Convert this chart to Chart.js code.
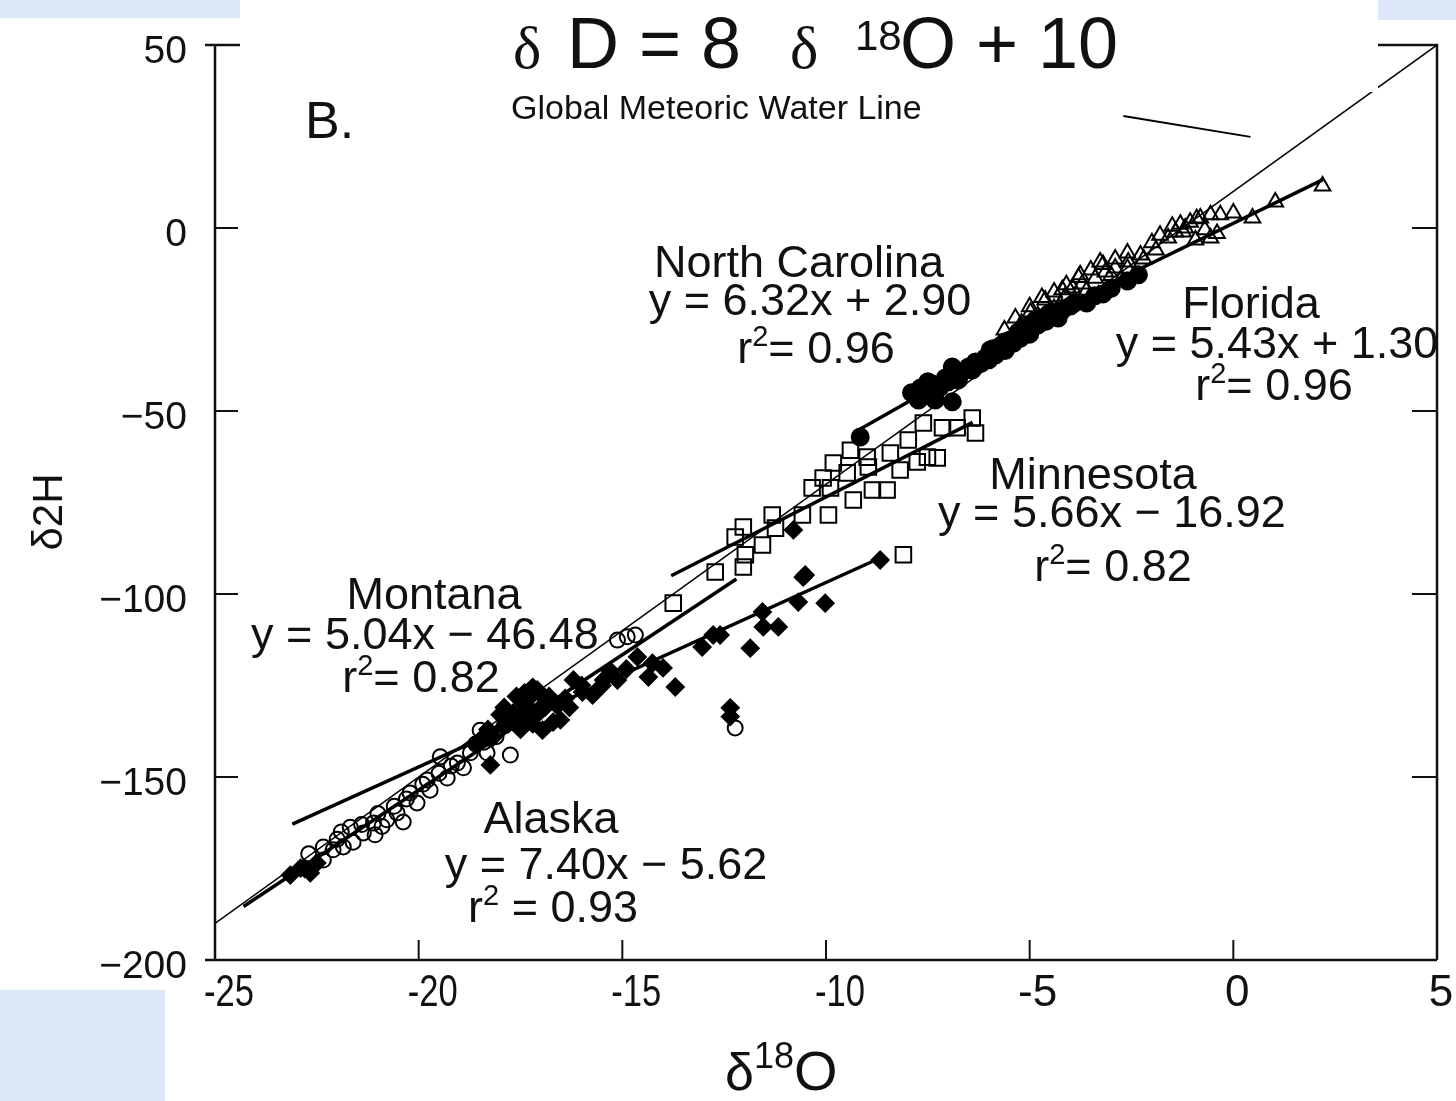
<!DOCTYPE html>
<html>
<head>
<meta charset="utf-8">
<style>
  html, body { margin: 0; padding: 0; background: #fff; }
  #wrap { width: 1456px; height: 1101px; }
</style>
<script src="https://cdn.jsdelivr.net/npm/chart.js@4.4.1/dist/chart.umd.min.js"></script>
</head>
<body>
<div id="wrap"><canvas id="c" width="1456" height="1101"></canvas></div>
<script>
// tick values
const xTicks = [-25, -20, -15, -10, -5, 0, 5];
const yTicks = [50, 0, -50, -100, -150, -200];

// Florida, open triangles
const floridaX = [2.19, 1.03, 0.47, 0.0, -0.32, -0.56, -0.81, -1.06, -1.23, -1.42, -1.6, -0.93, -0.56, -1.18,
  -2.28, -2.58, -2.9, -3.14, -3.39, -3.71, -4.12, -3.27, -3.76, -4.2, -4.62, -4.98, -5.35, -5.62, -4.49,
  -2.77, -3.31, -4.25, -3.95,
  -5.0, -4.7, -4.4, -4.1, -3.8, -3.5, -3.2, -2.9, -2.6, -2.0, -1.8, -1.5, -1.3, -0.9, -0.7, -0.4, -2.2, -1.9,
  -5.2, -4.8, -4.4, -3.9, -3.6, -3.0, -2.6];
const floridaY = [11.5, 7.1, 2.7, 4.1, 3.6, 3.6, 2.7, 1.6, -1.1, -1.1, -2.7, -3.3, -2.7, 0,
  -7.4, -9.3, -10.9, -12.0, -13.7, -15.3, -18.6, -9.3, -12.8, -16.9, -19.7, -23.0, -24.6, -27.9, -22.4,
  -14.2, -18.3, -21.0, -16.4,
  -21.5, -19.0, -17.5, -15.5, -13.5, -11.5, -10.0, -8.5, -6.8, -4.0, -2.0, 0.5, 1.0, 2.5, -0.5, -1.5, -8.5, -6.0,
  -26.0, -24.0, -22.0, -19.5, -17.0, -13.0, -11.0];

// North Carolina, filled circles
const ncX = [-9.16, -7.73, -7.32, -6.9, -7.68, -7.39, -7.07, -6.65, -6.33, -6.09, -5.97, -5.72, -5.48, -5.28,
  -5.08, -4.86, -4.69, -4.54, -5.84, -5.6, -5.23, -4.98, -6.41, -6.75, -7.49, -4.3, -4.0, -2.33, -3.6, -3.2,
  -7.9, -7.6, -7.5, -7.2, -7.0, -6.8, -6.5, -6.2, -6.0, -5.9, -5.6, -5.4, -5.2, -5.0, -4.8, -4.6, -4.4, -4.2,
  -3.9, -3.4, -3.0, -2.6, -6.9, -7.7];
const ncY = [-57.1, -47.0, -47.0, -47.5, -43.7, -42.6, -41.0, -39.3, -36.6, -35.5, -33.3, -32.2, -30.6, -28.4,
  -26.5, -25.1, -24.6, -23.5, -34.7, -31.1, -30.1, -27.9, -38.8, -41.5, -45.6, -24.6, -21.3, -12.8, -20.5, -18.0,
  -45.0, -44.5, -42.0, -43.5, -42.0, -40.0, -38.0, -37.0, -36.0, -33.0, -33.5, -31.5, -29.5, -29.0, -26.5, -25.5,
  -23.0, -22.5, -20.5, -18.5, -16.5, -14.5, -38.0, -46.5];

// Minnesota, open squares
const mnX = [-6.41, -6.33, -6.78, -7.14, -7.61, -7.51, -7.98, -8.42, -8.99, -8.96, -8.18, -8.5, -8.86, -9.33,
  -9.82, -9.48, -10.07, -10.34, -9.89, -9.94, -10.58, -11.32, -11.24, -11.56, -12.03, -12.23, -11.98, -12.03,
  -12.72, -8.1, -9.4, -7.27, -7.76, -13.75];
const mnY = [-51.9, -56.0, -54.6, -54.6, -53.3, -62.6, -57.9, -61.5, -62.6, -65.3, -66.1, -71.6, -71.6, -74.3,
  -64.2, -66.9, -68.3, -71.0, -71.0, -78.4, -78.4, -78.4, -82.0, -86.6, -81.7, -84.4, -89.3, -92.6,
  -94.0, -89.3, -60.7, -62.8, -63.9, -102.5];

// Montana, filled diamonds
const mtX = [-8.67, -10.51, -10.02, -10.68, -11.56, -11.54, -11.17, -11.86, -12.6, -12.77, -13.04, -13.7, -14.0,
  -14.26, -14.36, -14.63, -15.12, -15.46, -15.73, -15.98, -16.2, -16.52, -16.96, -17.26, -17.09, -17.43, -17.68,
  -17.92, -18.17, -12.35, -12.35, -18.24, -23.15, -22.66, -22.9, -10.8, -10.56, -16.8, -17.0, -17.2, -16.6,
  -17.5, -17.8, -16.4, -15.3,
  -17.6, -17.4, -17.3, -17.1, -16.9, -17.7, -17.9, -18.0, -17.5, -16.7, -17.2, -18.3, -18.5, -17.0, -16.3,
  -16.0, -15.5, -14.9, -18.6, -22.8, -22.5];
const mtY = [-90.7, -94.8, -102.5, -102.2, -104.9, -109.0, -109.0, -114.8, -111.2, -111.2, -114.5, -125.4, -120.2,
  -118.9, -122.7, -117.2, -123.5, -123.5, -127.6, -126.8, -123.5, -134.4, -137.2, -128.1, -126.2, -129.8, -132.5,
  -136.3, -139.1, -131.1, -133.5, -146.7, -176.8, -176.2, -174.9, -82.5, -95.4, -128.0, -131.0, -125.5, -130.5,
  -134.0, -135.5, -128.5, -121.0,
  -128.0, -127.0, -131.0, -133.0, -131.0, -134.0, -131.0, -133.0, -137.0, -135.0, -135.5, -137.0, -140.0, -127.5,
  -131.0, -125.0, -125.0, -120.5, -141.0, -175.0, -173.5];

// Alaska, open circles
const akX = [-18.49, -17.75, -18.32, -19.47, -18.9, -19.3, -19.72, -20.04, -20.38, -20.53, -20.78, -21.07, -21.36,
  -21.61, -21.85, -22.1, -22.34, -22.34, -21.68, -21.11, -20.21, -19.79, -19.05, -18.73, -15.12, -14.88, -14.68,
  -12.23, -17.75, -17.38,
  -22.7, -22.0, -21.4, -21.0, -20.6, -20.3, -19.9, -19.5, -19.2, -18.6, -18.1, -17.9, -17.5, -18.4, -21.9, -20.9];
const akY = [-137.2, -144.0, -143.4, -144.5, -147.5, -150.3, -153.6, -157.1, -162.3, -159.8, -161.7, -165.8, -165.3,
  -167.8, -169.1, -169.9, -169.1, -172.7, -163.7, -162.6, -154.4, -150.8, -146.2, -143.4, -112.6, -111.7, -111.2,
  -136.6, -133.1, -130.3,
  -171.0, -167.0, -163.0, -160.0, -158.0, -156.0, -152.0, -149.0, -147.0, -141.0, -139.0, -136.0, -133.5, -140.5,
  -165.0, -163.5];

// fitted lines, end points
const gmwlX = [-25, 5];
const gmwlY = [-190, 50];
const floridaFitX = [-5.6, 2.2];
const floridaFitY = [-29.1, 13.2];
const ncFitX = [-9.2, -2.3];
const ncFitY = [-55.2, -11.6];
const mnFitX = [-13.8, -6.4];
const mnFitY = [-95.0, -53.1];
const mtFitX = [-23.1, -8.7];
const mtFitY = [-162.9, -90.3];
const akFitX = [-24.3, -12.2];
const akFitY = [-185.4, -95.9];
const pointerX = [-2.7, 0.42];
const pointerY = [30.6, 24.9];

const pts = (xs, ys) => xs.map((x, i) => ({ x: x, y: ys[i] }));

const lineSet = (xs, ys, w) => ({
  data: pts(xs, ys), showLine: true, borderColor: '#000', borderWidth: w,
  pointRadius: 0, fill: false, order: 0
});
const markSet = (xs, ys, style, r, filled) => ({
  data: pts(xs, ys), showLine: false, pointStyle: style, pointRadius: r,
  pointBorderColor: '#000', pointBackgroundColor: filled ? '#000' : 'rgba(255,255,255,0)',
  pointBorderWidth: 2, order: 1
});

const F = '"Liberation Sans", Arial, Helvetica, sans-serif';
const FN = '"Liberation Sans Narrow", "Arial Narrow", "Liberation Sans", sans-serif';
const FS = '"Liberation Serif", "Times New Roman", serif';

// draws a row of text pieces; piece = [text, size, dy, family]
function runs(ctx, x, y, parts, align) {
  let total = 0;
  parts.forEach(p => { ctx.font = p[1] + 'px ' + (p[3] || F); total += ctx.measureText(p[0]).width; });
  let cx = align === 'center' ? x - total / 2 : x;
  ctx.textAlign = 'left';
  ctx.textBaseline = 'alphabetic';
  parts.forEach(p => {
    ctx.font = p[1] + 'px ' + (p[3] || F);
    ctx.fillText(p[0], cx, y + (p[2] || 0));
    cx += ctx.measureText(p[0]).width;
  });
}

const decor = {
  id: 'decor',
  beforeDatasetsDraw(chart) {
    const ctx = chart.ctx, a = chart.chartArea;
    const xs = chart.scales.x, ys = chart.scales.y;
    ctx.save();
    ctx.strokeStyle = '#111';
    ctx.lineWidth = 2.5;
    ctx.beginPath();
    ctx.moveTo(a.left, a.top); ctx.lineTo(a.right, a.top); ctx.lineTo(a.right, a.bottom);
    ctx.moveTo(a.left - 10, a.bottom); ctx.lineTo(a.right, a.bottom);
    ctx.moveTo(a.left, a.top); ctx.lineTo(a.left, a.bottom);
    ctx.moveTo(a.left - 10, a.top); ctx.lineTo(a.left, a.top);
    ctx.stroke();
    ctx.lineWidth = 2;
    ctx.beginPath();
    yTicks.forEach(v => {
      const py = ys.getPixelForValue(v);
      ctx.moveTo(a.left, py); ctx.lineTo(a.left + 23, py);
      ctx.moveTo(a.right, py); ctx.lineTo(a.right - 25, py);
    });
    xTicks.forEach(v => {
      const px = xs.getPixelForValue(v);
      ctx.moveTo(px, a.bottom); ctx.lineTo(px, a.bottom - 20);
    });
    ctx.stroke();
    ctx.restore();
  },
  afterDatasetsDraw(chart) {
    const ctx = chart.ctx, a = chart.chartArea;
    const xs = chart.scales.x, ys = chart.scales.y;
    ctx.save();
    // pasted title area and slide background
    ctx.fillStyle = '#fff';
    ctx.fillRect(240, 0, 1138, 92);
    ctx.fillStyle = '#dce7f7';
    ctx.fillRect(0, 0, 240, 18);
    ctx.fillRect(1378, 0, 78, 20);
    ctx.fillRect(0, 990, 165, 111);

    ctx.fillStyle = '#111';
    // tick labels
    ctx.font = '39px ' + F;
    ctx.textAlign = 'right';
    ctx.textBaseline = 'middle';
    yTicks.forEach(v => {
      ctx.fillText(String(v).replace('-', '\u2212'), a.left - 28, ys.getPixelForValue(v) + 7);
    });
    ctx.font = '44px ' + FN;
    ctx.textAlign = 'center';
    ctx.textBaseline = 'top';
    xTicks.forEach(v => {
      const s = String(v);
      const off = s.length > 2 ? 14 : (s.length > 1 ? 8 : 4);
      ctx.fillText(s, xs.getPixelForValue(v) + off, a.bottom + 12, 50);
    });

    // axis titles
    runs(ctx, 725, 1090, [['\u03b4', 52, 0, FN], ['18', 36, -22, FN], ['O', 56, 0, FN]], 'left');
    ctx.save();
    ctx.translate(62, 512);
    ctx.rotate(-Math.PI / 2);
    runs(ctx, 0, 0, [['\u03b4', 42], ['2', 42], ['H', 42]], 'center');
    ctx.restore();

    // title
    runs(ctx, 513, 68, [['\u03b4', 60, 0, FS]], 'left');
    runs(ctx, 567, 68, [['D = 8', 72]], 'left');
    runs(ctx, 790, 68, [['\u03b4', 60, 0, FS]], 'left');
    runs(ctx, 855, 50, [['18', 42]], 'left');
    runs(ctx, 900, 68, [['O + 10', 72]], 'left');

    runs(ctx, 305, 138, [['B.', 52]], 'left');
    ctx.font = '34px ' + F;
    ctx.textAlign = 'left';
    ctx.textBaseline = 'alphabetic';
    ctx.fillText('Global Meteoric Water Line', 511, 119, 416);

    // site labels
    const A = 45;
    const r2 = (val, sp) => [['r', A], ['2', 29, -17], [(sp ? ' ' : '') + '= ' + val, A]];
    runs(ctx, 799, 277, [['North Carolina', A]], 'center');
    runs(ctx, 810, 315, [['y = 6.32x + 2.90', A]], 'center');
    runs(ctx, 816, 363, r2('0.96'), 'center');
    runs(ctx, 1251, 318, [['Florida', A]], 'center');
    runs(ctx, 1277, 358, [['y = 5.43x + 1.30', A]], 'center');
    runs(ctx, 1274, 400, r2('0.96'), 'center');
    runs(ctx, 1093, 489, [['Minnesota', A]], 'center');
    runs(ctx, 1112, 527, [['y = 5.66x \u2212 16.92', A]], 'center');
    runs(ctx, 1113, 581, r2('0.82'), 'center');
    runs(ctx, 434, 609, [['Montana', A]], 'center');
    runs(ctx, 425, 649, [['y = 5.04x \u2212 46.48', A]], 'center');
    runs(ctx, 421, 692, r2('0.82'), 'center');
    runs(ctx, 551, 833, [['Alaska', A]], 'center');
    runs(ctx, 606, 879, [['y = 7.40x \u2212 5.62', A]], 'center');
    runs(ctx, 553, 922, r2('0.93', true), 'center');
    ctx.restore();
  }
};

new Chart(document.getElementById('c'), {
  type: 'scatter',
  data: {
    datasets: [
      lineSet(floridaFitX, floridaFitY, 3.5),
      lineSet(ncFitX, ncFitY, 3.5),
      lineSet(mnFitX, mnFitY, 3.5),
      lineSet(mtFitX, mtFitY, 3.5),
      lineSet(akFitX, akFitY, 3.5),
      lineSet(pointerX, pointerY, 2),
      markSet(floridaX, floridaY, 'triangle', 9, false),
      markSet(ncX, ncY, 'circle', 8.5, true),
      markSet(mnX, mnY, 'rect', 11, false),
      markSet(mtX, mtY, 'rectRot', 8.5, true),
      markSet(akX, akY, 'circle', 7.5, false),
      lineSet(gmwlX, gmwlY, 1.5)
    ]
  },
  options: {
    responsive: false,
    animation: false,
    layout: { padding: { left: 215, right: 19, top: 45, bottom: 141 } },
    scales: {
      x: { type: 'linear', min: -25, max: 5, display: false },
      y: { type: 'linear', min: -200, max: 50, display: false }
    },
    plugins: { legend: { display: false }, tooltip: { enabled: false } }
  },
  plugins: [decor]
});
</script>
</body>
</html>
